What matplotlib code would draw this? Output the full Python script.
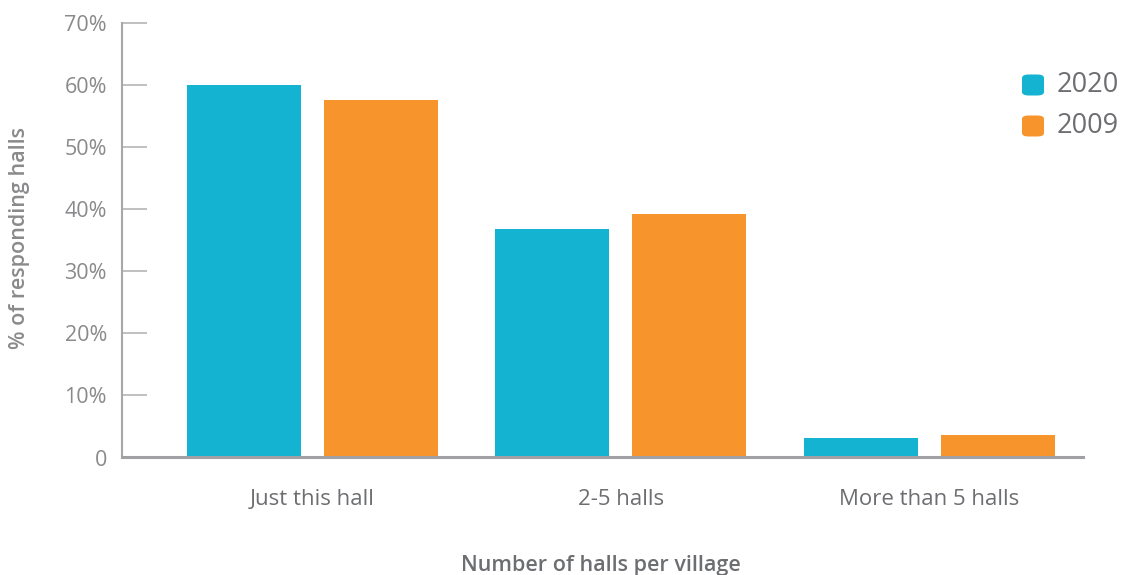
import matplotlib
matplotlib.use("Agg")
import matplotlib.pyplot as plt
import matplotlib.transforms as mtransforms
from matplotlib.patches import FancyBboxPatch
import numpy as np

categories = ["Just this hall", "2-5 halls", "More than 5 halls"]
series_names = ["2020", "2009"]
values_2020 = [60.0, 36.8, 3.1]
values_2009 = [57.6, 39.2, 3.5]
yticks = [0, 10, 20, 30, 40, 50, 60, 70]
ytick_labels = ["0", "10%", "20%", "30%", "40%", "50%", "60%", "70%"]
colors = ["#14b3d2", "#f7942b"]

plt.rcParams['font.family'] = ['Open Sans', 'DejaVu Sans']

fig = plt.figure(figsize=(11.23, 5.75), dpi=100)
ax = fig.add_axes([122/1123, 1-457/575, (1083-122)/1123, (457-22.7)/575])

x = np.arange(len(categories))
w = 0.3695
off = 0.222
ax.bar(x - off, values_2020, width=w, color=colors[0], zorder=2)
ax.bar(x + off, values_2009, width=w, color=colors[1], zorder=2)

ax.set_xlim(-0.6175, 2.499)
ax.set_ylim(0, 70)
ax.set_yticks(yticks)
ax.set_yticklabels([])
ax.tick_params(axis='y', direction='in', length=18, width=1.2, color="#b5b5b8")
# y tick labels, slightly below their ticks as in the original
trans = ax.get_yaxis_transform() + mtransforms.ScaledTranslation(-15/100, -3/100, fig.dpi_scale_trans)
for v, lab in zip(yticks, ytick_labels):
    ax.text(0, v, lab, transform=trans, ha="right", va="center",
            fontsize=15.5, color="#8a8a8c", clip_on=False)

ax.set_xticks(x)
ax.set_xticklabels(categories, fontsize=16, color="#6d6e71")
ax.tick_params(axis='x', length=0, pad=23)

for s in ["top", "right"]:
    ax.spines[s].set_visible(False)
ax.spines["left"].set_color("#a7a7ab")
ax.spines["left"].set_linewidth(1.5)
ax.spines["bottom"].set_color("#a0a0a5")
ax.spines["bottom"].set_linewidth(2.2)

fig.text(601/1123, 1-566/575, "Number of halls per village", ha="center", va="center",
         fontsize=15.5, color="#6d6e71", fontweight="semibold")
fig.text(20/1123, 1-238/575, "% of responding halls", ha="center", va="center",
         rotation=90, fontsize=15.5, color="#8a8a8c", fontweight="semibold")

# legend
legend_y = [85, 126]
for name, c, yy in zip(series_names, colors, legend_y):
    box = FancyBboxPatch((1022/1123, 1-(yy+10.5)/575), 22/1123, 21/575,
                         boxstyle="round,pad=0,rounding_size=0.006",
                         transform=fig.transFigure, facecolor=c, edgecolor="none")
    fig.patches.append(box)
    fig.text(1057/1123, 1-yy/575, name, ha="left", va="center", fontsize=19.5, color="#6d6e71")

fig.savefig("out.png", dpi=100)
